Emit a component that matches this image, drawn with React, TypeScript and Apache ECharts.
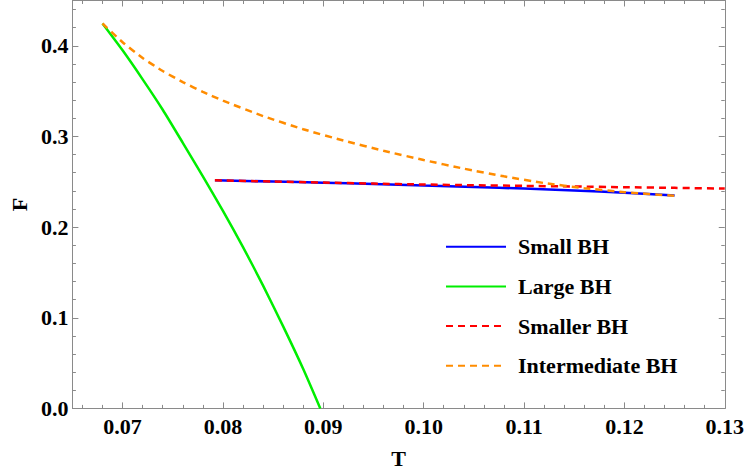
import React, { useEffect, useRef } from "react";
import * as echarts from "echarts";

// ---- data ----
const smallT = [0.0792, 0.085, 0.09, 0.095, 0.1, 0.105, 0.11, 0.115, 0.12, 0.1250];
const smallF = [0.2516, 0.2503, 0.2490, 0.2475, 0.2458, 0.2442, 0.2425, 0.2404, 0.2380, 0.2348];

const largeT = [0.0680, 0.070, 0.072, 0.074, 0.076, 0.078, 0.080, 0.082, 0.084, 0.086, 0.088, 0.0897];
const largeF = [0.4246, 0.3950, 0.3630, 0.3295, 0.2930, 0.2560, 0.2180, 0.1780, 0.1355, 0.0905, 0.0435, 0.0];

const smallerT = [0.0792, 0.085, 0.09, 0.095, 0.1, 0.105, 0.11, 0.115, 0.12, 0.125, 0.13];
const smallerF = [0.2516, 0.2503, 0.2492, 0.2480, 0.2470, 0.2462, 0.2455, 0.2448, 0.2440, 0.2433, 0.2425];

const interT = [0.068, 0.070, 0.072, 0.074, 0.076, 0.078, 0.080, 0.084, 0.088, 0.092, 0.096, 0.100, 0.104, 0.108, 0.112, 0.116, 0.120, 0.125];
const interF = [0.4246, 0.4040, 0.3865, 0.3722, 0.3600, 0.3492, 0.3395, 0.3225, 0.3080, 0.2955, 0.2842, 0.2740, 0.2645, 0.2560, 0.2486, 0.2430, 0.2385, 0.2345];

const seriesNames = ["Small BH", "Large BH", "Smaller BH", "Intermediate BH"];

const xMajorTicks = [0.07, 0.08, 0.09, 0.10, 0.11, 0.12, 0.13];
const xMinorTicks = [0.066, 0.068, 0.072, 0.074, 0.076, 0.078, 0.082, 0.084, 0.086, 0.088, 0.092, 0.094, 0.096, 0.098,
  0.102, 0.104, 0.106, 0.108, 0.112, 0.114, 0.116, 0.118, 0.122, 0.124, 0.126, 0.128];
const yMajorTicks = [0.0, 0.1, 0.2, 0.3, 0.4];
const yMinorTicks = [0.02, 0.04, 0.06, 0.08, 0.12, 0.14, 0.16, 0.18, 0.22, 0.24, 0.26, 0.28, 0.32, 0.34, 0.36, 0.38, 0.42, 0.44];

const X_MIN = 0.065, X_MAX = 0.13, Y_MIN = 0, Y_MAX = 0.45;

const pairs = (xs: number[], ys: number[]) => xs.map((x, i) => [x, ys[i]]);

const FONT = "'Liberation Serif', 'Times New Roman', serif";
const FRAME = "#8a8a8a";

export default function App() {
  const ref = useRef<HTMLDivElement>(null);
  useEffect(() => {
    document.body.style.margin = "0";
    const chart = echarts.init(ref.current!, null, { renderer: "svg" });

    const baseX = (pos: "top" | "bottom", ticks: number[], len: number, showLine: boolean, labels: boolean, name?: string) => ({
      type: "value",
      position: pos,
      min: X_MIN,
      max: X_MAX,
      axisLine: { show: showLine, onZero: false, lineStyle: { color: FRAME, width: 1 } },
      axisTick: { show: true, inside: true, length: len, customValues: ticks, lineStyle: { color: FRAME, width: 1 } },
      axisLabel: labels
        ? { show: true, customValues: ticks, margin: 7, formatter: (v: number) => v.toFixed(2),
            fontFamily: FONT, fontWeight: "bold", fontSize: 22, color: "#000" }
        : { show: false },
      splitLine: { show: false },
      name: name,
      nameLocation: "middle",
      nameGap: 38.6,
      nameTextStyle: { fontFamily: FONT, fontWeight: "bold", fontSize: 22, color: "#000" },
    });
    const baseY = (pos: "left" | "right", ticks: number[], len: number, showLine: boolean, labels: boolean, name?: string) => ({
      type: "value",
      position: pos,
      min: Y_MIN,
      max: Y_MAX,
      axisLine: { show: showLine, onZero: false, lineStyle: { color: FRAME, width: 1 } },
      axisTick: { show: true, inside: true, length: len, customValues: ticks, lineStyle: { color: FRAME, width: 1 } },
      axisLabel: labels
        ? { show: true, customValues: ticks, margin: 4, formatter: (v: number) => v.toFixed(1),
            fontFamily: FONT, fontWeight: "bold", fontSize: 22, color: "#000" }
        : { show: false },
      splitLine: { show: false },
      name: name,
      nameLocation: "middle",
      nameGap: 41.7,
      nameRotate: 90,
      nameTextStyle: { fontFamily: FONT, fontWeight: "bold", fontSize: 22, color: "#000" },
    });

    const lineSeries = (name: string, data: number[][], color: string, dashed: boolean) => ({
      name,
      type: "line",
      data,
      xAxisIndex: 0,
      yAxisIndex: 0,
      symbol: "none",
      showSymbol: false,
      smooth: 0.2,
      clip: true,
      lineStyle: { color, width: 2.5, type: dashed ? [7, 5] : "solid" },
      itemStyle: { color },
    });

    chart.setOption({
      animation: false,
      backgroundColor: "#fff",
      grid: { left: 66, right: 19.5, top: 0.5, bottom: 64.3, containLabel: false },
      xAxis: [
        baseX("bottom", xMajorTicks, 6, true, true, "T"),
        baseX("top", xMajorTicks, 6, true, false),
        baseX("bottom", xMinorTicks, 3.5, false, false),
        baseX("top", xMinorTicks, 3.5, false, false),
      ],
      yAxis: [
        baseY("left", yMajorTicks, 6, true, true, "F"),
        baseY("right", yMajorTicks, 6, true, false),
        baseY("left", yMinorTicks, 3.5, false, false),
        baseY("right", yMinorTicks, 3.5, false, false),
      ],
      legend: {
        data: seriesNames,
        orient: "vertical",
        left: 440,
        top: 230.7,
        itemWidth: 60,
        itemHeight: 14,
        itemGap: 17.7,
        itemStyle: { opacity: 0 },
        textStyle: { fontFamily: FONT, fontWeight: "bold", fontSize: 22, color: "#000", lineHeight: 22, padding: [0, 0, 0, 7] },
      },
      series: [
        lineSeries(seriesNames[0], pairs(smallT, smallF), "#0000ff", false),
        lineSeries(seriesNames[1], pairs(largeT, largeF), "#00ee00", false),
        lineSeries(seriesNames[2], pairs(smallerT, smallerF), "#ff0000", true),
        lineSeries(seriesNames[3], pairs(interT, interF), "#ff8c00", true),
      ],
    });
    return () => chart.dispose();
  }, []);
  return <div ref={ref} style={{ width: 747, height: 474 }} />;
}
